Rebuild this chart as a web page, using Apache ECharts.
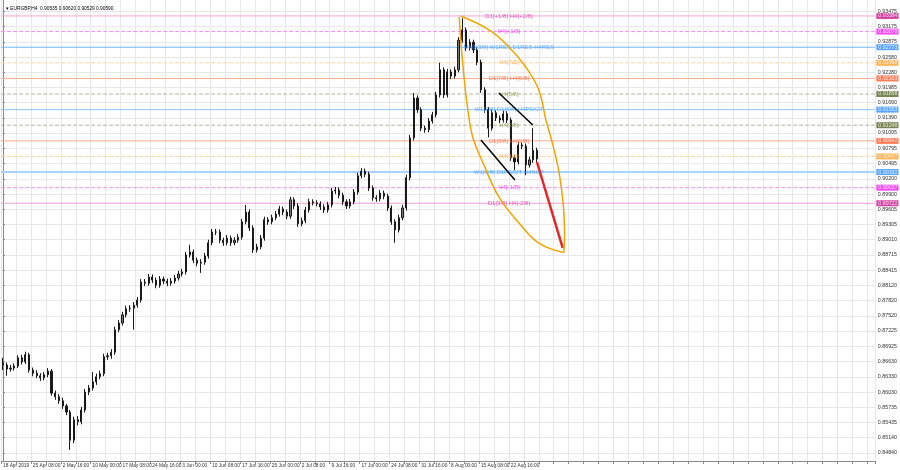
<!DOCTYPE html>
<html><head><meta charset="utf-8">
<script src="https://cdn.jsdelivr.net/npm/echarts@6/dist/echarts.min.js"></script>
<style>html,body{margin:0;padding:0;background:#fff}#c{width:900px;height:470px}</style>
</head><body><div id="c"></div>
<script>
// ---- data ----
const symbolName = 'EURGBP,H4';
const lastBar = [0.90535, 0.90620, 0.90529, 0.90590];
const timeLabels = ['18 Apr 2019','25 Apr 08:00','2 May 16:00','10 May 00:00','17 May 08:00','24 May 16:00','3 Jun 00:00','10 Jun 08:00','17 Jun 16:00','25 Jun 00:00','2 Jul 08:00','9 Jul 16:00','17 Jul 00:00','24 Jul 08:00','31 Jul 16:00','8 Aug 00:00','15 Aug 08:00','22 Aug 16:00'];
const slotsPerLabel = 8;
const totalSlots = 234;
const priceTicks = [0.84840,0.85140,0.85435,0.85735,0.86030,0.86330,0.86630,0.86925,0.87225,0.87520,0.87820,0.88120,0.88415,0.88715,0.89010,0.89305,0.89605,0.89900,0.90200,0.90495,0.90795,0.91095,0.91390,0.91690,0.91985,0.92280,0.92580,0.92875,0.93175,0.93475];
const open = [0.8660,0.8656,0.8648,0.8650,0.8654,0.8670,0.8662,0.8676,0.8646,0.8640,
0.8635,0.8631,0.8637,0.8644,0.8601,0.8594,0.8586,0.8576,0.8564,0.8509,
0.8549,0.8545,0.8568,0.8603,0.8611,0.8623,0.8633,0.8639,0.8672,0.8674,
0.8681,0.8725,0.8738,0.8754,0.8766,0.8767,0.8773,0.8783,0.8818,0.8816,
0.8828,0.8822,0.8812,0.8824,0.8820,0.8816,0.8820,0.8826,0.8834,0.8838,
0.8871,0.8877,0.8861,0.8855,0.8857,0.8869,0.8895,0.8916,0.8916,0.8900,
0.8895,0.8904,0.8895,0.8900,0.8906,0.8936,0.8955,0.8924,0.8881,0.8887,
0.8904,0.8940,0.8936,0.8944,0.8951,0.8961,0.8955,0.8947,0.8979,0.8967,
0.8932,0.8938,0.8959,0.8975,0.8973,0.8971,0.8965,0.8959,0.8969,0.8996,
0.8998,0.8988,0.8975,0.8967,0.8975,0.8994,0.9026,0.9035,0.9029,0.9002,
0.8983,0.8981,0.8992,0.8986,0.8963,0.8936,0.8920,0.8944,0.8963,0.9022,
0.9100,0.9178,0.9155,0.9119,0.9116,0.9133,0.9145,0.9184,0.9233,0.9184,
0.9229,0.9221,0.9233,0.9291,0.9311,0.9276,0.9287,0.9272,0.9248,0.9194,
0.9155,0.9119,0.9149,0.9139,0.9135,0.9147,0.9135,0.9061,0.9053,0.9086,
0.9084,0.9047,0.9057,0.9076];
const high = [0.8670,0.8661,0.8656,0.8659,0.8675,0.8676,0.8682,0.8680,0.8651,0.8646,
0.8640,0.8642,0.8650,0.8648,0.8606,0.8599,0.8592,0.8580,0.8568,0.8555,
0.8556,0.8574,0.8609,0.8617,0.8642,0.8639,0.8645,0.8678,0.8680,0.8687,
0.8731,0.8744,0.8760,0.8772,0.8773,0.8779,0.8789,0.8824,0.8824,0.8834,
0.8833,0.8827,0.8830,0.8829,0.8825,0.8826,0.8832,0.8840,0.8844,0.8877,
0.8891,0.8882,0.8866,0.8863,0.8875,0.8901,0.8922,0.8922,0.8921,0.8905,
0.8910,0.8909,0.8906,0.8912,0.8942,0.8969,0.8960,0.8929,0.8893,0.8910,
0.8946,0.8945,0.8950,0.8957,0.8967,0.8966,0.8960,0.8985,0.8984,0.8972,
0.8944,0.8965,0.8981,0.8980,0.8978,0.8976,0.8970,0.8975,0.9002,0.9004,
0.9003,0.8993,0.8980,0.8981,0.9000,0.9032,0.9041,0.9040,0.9034,0.9007,
0.8988,0.8998,0.8997,0.8991,0.8968,0.8941,0.8950,0.8969,0.9028,0.9106,
0.9188,0.9183,0.9160,0.9124,0.9139,0.9151,0.9190,0.9247,0.9238,0.9235,
0.9234,0.9239,0.9297,0.9334,0.9316,0.9293,0.9292,0.9277,0.9253,0.9199,
0.9160,0.9155,0.9154,0.9144,0.9153,0.9152,0.9140,0.9066,0.9092,0.9091,
0.9089,0.9063,0.9119,0.9081];
const low = [0.8646,0.8635,0.8643,0.8645,0.8650,0.8657,0.8658,0.8641,0.8634,0.8630,
0.8625,0.8626,0.8632,0.8596,0.8588,0.8580,0.8570,0.8558,0.8490,0.8503,
0.8538,0.8540,0.8563,0.8597,0.8606,0.8617,0.8628,0.8634,0.8666,0.8668,
0.8676,0.8720,0.8733,0.8749,0.8760,0.8725,0.8768,0.8778,0.8810,0.8811,
0.8816,0.8806,0.8807,0.8814,0.8810,0.8811,0.8815,0.8821,0.8829,0.8833,
0.8866,0.8855,0.8849,0.8836,0.8852,0.8864,0.8890,0.8910,0.8894,0.8889,
0.8890,0.8889,0.8890,0.8895,0.8901,0.8931,0.8918,0.8875,0.8876,0.8882,
0.8899,0.8930,0.8931,0.8939,0.8946,0.8949,0.8941,0.8942,0.8961,0.8926,
0.8927,0.8933,0.8954,0.8968,0.8966,0.8959,0.8953,0.8954,0.8964,0.8990,
0.8982,0.8969,0.8961,0.8962,0.8970,0.8989,0.9021,0.9023,0.8996,0.8977,
0.8975,0.8976,0.8980,0.8957,0.8930,0.8895,0.8915,0.8939,0.8958,0.9017,
0.9095,0.9149,0.9113,0.9110,0.9111,0.9128,0.9140,0.9179,0.9178,0.9179,
0.9215,0.9216,0.9228,0.9286,0.9270,0.9271,0.9266,0.9242,0.9188,0.9149,
0.9101,0.9114,0.9133,0.9129,0.9130,0.9129,0.9055,0.9037,0.9048,0.9078,
0.9027,0.9042,0.9051,0.9053];
const close = [0.8656,0.8648,0.8650,0.8654,0.8670,0.8662,0.8676,0.8646,0.8640,0.8635,
0.8631,0.8637,0.8644,0.8601,0.8594,0.8586,0.8576,0.8564,0.8509,0.8549,
0.8545,0.8568,0.8603,0.8611,0.8623,0.8633,0.8639,0.8672,0.8674,0.8681,
0.8725,0.8738,0.8754,0.8766,0.8767,0.8773,0.8783,0.8818,0.8816,0.8828,
0.8822,0.8812,0.8824,0.8820,0.8816,0.8820,0.8826,0.8834,0.8838,0.8871,
0.8877,0.8861,0.8855,0.8857,0.8869,0.8895,0.8916,0.8916,0.8900,0.8895,
0.8904,0.8895,0.8900,0.8906,0.8936,0.8955,0.8924,0.8881,0.8887,0.8904,
0.8940,0.8936,0.8944,0.8951,0.8961,0.8955,0.8947,0.8979,0.8967,0.8932,
0.8938,0.8959,0.8975,0.8973,0.8971,0.8965,0.8959,0.8969,0.8996,0.8998,
0.8988,0.8975,0.8967,0.8975,0.8994,0.9026,0.9035,0.9029,0.9002,0.8983,
0.8981,0.8992,0.8986,0.8963,0.8936,0.8920,0.8944,0.8963,0.9022,0.9100,
0.9178,0.9155,0.9119,0.9116,0.9133,0.9145,0.9184,0.9233,0.9184,0.9229,
0.9221,0.9233,0.9291,0.9311,0.9276,0.9287,0.9272,0.9248,0.9194,0.9155,
0.9119,0.9149,0.9139,0.9135,0.9147,0.9135,0.9061,0.9053,0.9086,0.9084,
0.9047,0.9057,0.9076,0.9059];
// Murray levels
const levelPrices = [0.93384,0.93079,0.92773,0.92468,0.92163,0.91858,0.91553,0.91248,0.90942,0.90637,0.90332,0.90027,0.89722];
const levelNames = ['D1[+1/8] H4[+2/8]','H4[+1/8]','MN1[3/8] W1RES D1RES H4RES','H4[7/8]','D1[7/8] H4[6/8]','H4[5/8]','W1[7/8] D1[6/8] H4PIVOT','H4[3/8]','D1[5/8] H4[2/8]','H4[1/8]','W1[6/8] D1PIVOT H4SUP','H4[-1/8]','D1[3/8] H4[-2/8]'];
const levelNameSlot = 135.5;
// drawing objects (slot index, price)
const arcLeft = [[122.2,0.93364],[122.7,0.92816],[123.5,0.92171],[124.5,0.91546],[125.8,0.91018],[128.8,0.90470],[132.8,0.89845],[138.2,0.89336],[143.5,0.88945],[150.2,0.88760]];
const arcRight = [[122.6,0.93383],[130.2,0.93110],[135.5,0.92777],[140.0,0.92386],[143.5,0.91937],[145.4,0.91350],[146.7,0.91018],[148.8,0.90373],[150.1,0.89649],[150.4,0.89063],[150.2,0.88760]];
const channelUpper = [[132.8,0.91878],[141.9,0.91252]];
const channelLower = [[128.0,0.90959],[137.1,0.90177]];
const forecastArrow = [[143.0,0.90529],[149.9,0.88848]];

// ---- styles ----
const levelStyles = [
  {line:'#f2a3d4',type:'solid',w:1,badge:'#c8158c',text:'#e03aa8'},
  {line:'#f28ef2',type:'dashed',w:1,badge:'#f01ef0',text:'#f02af0'},
  {line:'#6fb4ff',type:'solid',w:1,badge:'#2f8fff',text:'#3d9cff'},
  {line:'#ffd49e',type:'dashed',w:1,badge:'#ffa030',text:'#ffa040'},
  {line:'#ffaa8c',type:'solid',w:1,badge:'#ff5a2a',text:'#ff6640'},
  {line:'#b4b49a',type:'dashed',w:1,badge:'#56682a',text:'#7f9040'},
  {line:'#8cc4ff',type:'solid',w:1,badge:'#2f8fff',text:'#3d9cff'},
  {line:'#b4b49a',type:'dashed',w:1,badge:'#56682a',text:'#7f9040'},
  {line:'#ffaa8c',type:'solid',w:1,badge:'#ff5a2a',text:'#ff6640'},
  {line:'#ffd49e',type:'dashed',w:1,badge:'#ffa030',text:'#ffa040'},
  {line:'#a8d2ff',type:'solid',w:2,badge:'#2f8fff',text:'#3d9cff'},
  {line:'#f28ef2',type:'dashed',w:1,badge:'#f01ef0',text:'#f02af0'},
  {line:'#f2a3d4',type:'solid',w:1,badge:'#c8158c',text:'#e03aa8'}
];
const FONT = '"Liberation Sans",Arial,sans-serif';

const categories = [];
for (let i = 0; i < totalSlots; i++) categories.push(String(i));
const candles = open.map((o, i) => [o, close[i], low[i], high[i]]);
const xLo = -0.5, xHi = totalSlots - 0.5;

const levelSeries = levelPrices.map((p, i) => ({
  type: 'line', xAxisIndex: 1, yAxisIndex: 0, symbol: 'none', silent: true, z: 1,
  data: [[xLo, p], [xHi, p]],
  lineStyle: {color: levelStyles[i].line, type: levelStyles[i].type, width: levelStyles[i].w}
}));

const chart = echarts.init(document.getElementById('c'), null, {renderer: 'canvas'});
chart.setOption({
  animation: false,
  backgroundColor: '#ffffff',
  title: {
    text: '\u25BE ' + symbolName + '  ' + lastBar.map(v => v.toFixed(5)).join(' '),
    left: 1, top: 1,
    textStyle: {fontSize: 4.8, fontWeight: 'normal', color: '#000', fontFamily: FONT}
  },
  grid: {left: 0, right: 23, top: 0, bottom: 9, containLabel: false},
  xAxis: [{
    type: 'category', data: categories, boundaryGap: true,
    axisLine: {show: true, lineStyle: {color: '#8a8a8a', width: 1}},
    axisTick: {show: true, length: 3, interval: i => i % 4 === 0, lineStyle: {color: '#8a8a8a'}},
    axisLabel: {
      show: true, interval: i => i % slotsPerLabel === 0 && i / slotsPerLabel < timeLabels.length,
      formatter: (v, i) => timeLabels[i / slotsPerLabel] || '',
      fontSize: 4.8, color: '#333', fontFamily: FONT, margin: 2, align: 'left'
    },
    splitLine: {show: true, interval: i => i % 4 === 0, lineStyle: {color: '#e8e8e8', width: 1}}
  }, {
    type: 'value', min: xLo, max: xHi, show: false
  }],
  yAxis: {
    type: 'value', position: 'right', min: 0.84683, max: 0.93696, scale: true,
    axisLine: {show: true, lineStyle: {color: '#8a8a8a', width: 1}},
    axisTick: {show: true, length: 2, customValues: priceTicks, lineStyle: {color: '#8a8a8a'}},
    axisLabel: {show: true, customValues: priceTicks, formatter: v => v.toFixed(5), fontSize: 5.3, color: '#333', fontFamily: FONT, margin: 3},
    splitLine: {show: true, lineStyle: {color: '#e8e8e8', width: 1}}
  },
  series: levelSeries.concat([
    {
      type: 'candlestick', xAxisIndex: 0, yAxisIndex: 0, data: candles, barWidth: 1.6, z: 3,
      itemStyle: {color: '#7a7a7a', color0: '#1a1a1a', borderColor: '#1a1a1a', borderColor0: '#1a1a1a', borderWidth: 1}
    },
    {
      type: 'scatter', xAxisIndex: 1, yAxisIndex: 0, symbolSize: 1, silent: true, clip: false, z: 4,
      itemStyle: {color: 'rgba(0,0,0,0)'},
      data: levelPrices.map((p, i) => ({
        value: [levelNameSlot, p],
        label: {show: true, position: 'inside', formatter: levelNames[i], color: levelStyles[i].text, fontSize: 6, fontFamily: FONT}
      }))
    },
    {
      type: 'scatter', xAxisIndex: 1, yAxisIndex: 0, symbolSize: 1, silent: true, clip: false, z: 6,
      itemStyle: {color: 'rgba(0,0,0,0)'},
      data: levelPrices.map((p, i) => ({
        value: [xHi, p],
        label: {show: true, position: 'right', distance: 1, formatter: p.toFixed(5), color: '#fff',
                backgroundColor: levelStyles[i].badge, padding: [1, 1, 0, 2], fontSize: 5.3, fontFamily: FONT}
      }))
    },
    {type: 'line', xAxisIndex: 1, data: arcLeft, smooth: 0.4, symbol: 'none', silent: true, z: 5,
     lineStyle: {color: '#f4a300', width: 1.5}},
    {type: 'line', xAxisIndex: 1, data: arcRight, smooth: 0.4, symbol: 'none', silent: true, z: 5,
     lineStyle: {color: '#f4a300', width: 1.5}},
    {type: 'line', xAxisIndex: 1, data: channelUpper, symbol: 'none', silent: true, z: 5,
     lineStyle: {color: '#000', width: 1.5}},
    {type: 'line', xAxisIndex: 1, data: channelLower, symbol: 'none', silent: true, z: 5,
     lineStyle: {color: '#000', width: 1.5}},
    {type: 'line', xAxisIndex: 1, data: [], silent: true, z: 5,
     markLine: {silent: true, symbol: ['none', 'arrow'], symbolSize: [0, 7], animation: false,
       label: {show: false},
       lineStyle: {color: '#e3282a', width: 2.5, type: 'solid'},
       data: [[{coord: forecastArrow[0]}, {coord: forecastArrow[1]}]]}}
  ])
});
</script></body></html>
